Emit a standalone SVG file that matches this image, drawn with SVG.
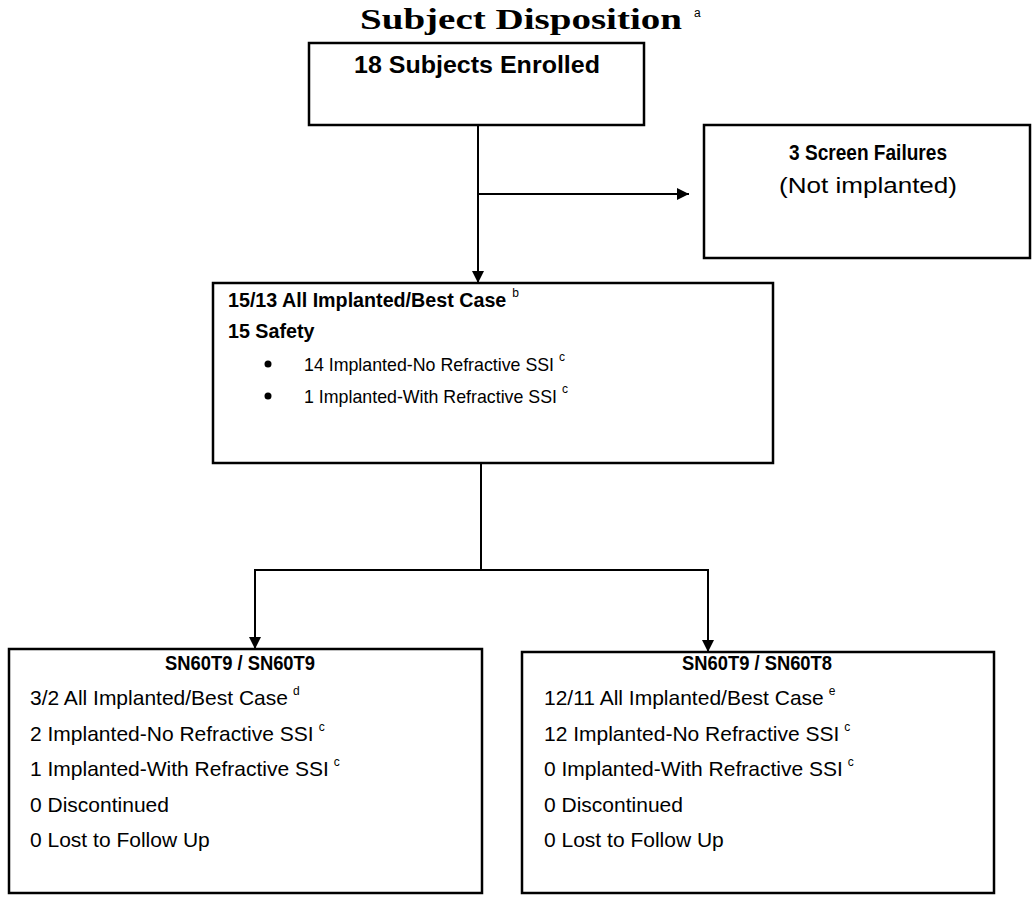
<svg xmlns="http://www.w3.org/2000/svg" width="1034" height="901" viewBox="0 0 1034 901">
<defs>
<style>
.box{fill:#fff;stroke:#000;stroke-width:2.5}
.ln{fill:none;stroke:#000;stroke-width:2}
.t{font-family:"Liberation Sans",Arial,sans-serif;fill:#000}
.b{font-weight:bold}
.s18{font-size:17.8px}
.s20{font-size:19.7px}
.s21{font-size:21px}
.s22{font-size:22px}
.s23{font-size:23px}
.sup{font-size:12px;font-weight:normal}
.title{font-family:"Liberation Serif","Times New Roman",serif;font-weight:bold;font-size:30px;fill:#000}
</style>
<marker id="ah" viewBox="0 0 10 10" refX="10" refY="5" markerWidth="12" markerHeight="12" markerUnits="userSpaceOnUse" orient="auto">
<path d="M0,0 L10,5 L0,10 Z" fill="#000"/>
</marker>
</defs>
<rect width="1034" height="901" fill="#fff"/>
<text class="title" x="360" y="29" textLength="322" lengthAdjust="spacingAndGlyphs">Subject Disposition</text>
<text class="t sup" x="694" y="17">a</text>

<g id="connectors">
<line class="ln" x1="478" y1="125" x2="478" y2="283" marker-end="url(#ah)"/>
<line class="ln" x1="478" y1="194" x2="689" y2="194" marker-end="url(#ah)"/>
<polyline class="ln" points="481,463 481,570"/>
<line class="ln" x1="255" y1="570" x2="708" y2="570"/>
<line class="ln" x1="255" y1="569" x2="255" y2="649" marker-end="url(#ah)"/>
<line class="ln" x1="708" y1="569" x2="708" y2="652" marker-end="url(#ah)"/>
</g>

<g id="enrolled">
<rect class="box" x="309" y="43" width="335" height="82"/>
<text class="t b s23" x="354" y="73" textLength="246" lengthAdjust="spacingAndGlyphs">18 Subjects Enrolled</text>
</g>

<g id="screen-failures">
<rect class="box" x="704" y="125" width="326" height="133"/>
<text class="t b s22" x="868" y="160" text-anchor="middle" textLength="158" lengthAdjust="spacingAndGlyphs">3 Screen Failures</text>
<text class="t s22" x="868" y="193" text-anchor="middle" textLength="178" lengthAdjust="spacingAndGlyphs">(Not implanted)</text>
</g>

<g id="implanted">
<rect class="box" x="213" y="283" width="560" height="180"/>
<text class="t b s20" x="228" y="307">15/13 All Implanted/Best Case<tspan class="sup" dx="6" dy="-10">b</tspan></text>
<text class="t b s20" x="228" y="338">15 Safety</text>
<circle cx="268" cy="364" r="3.5" fill="#000"/>
<text class="t s18" x="304" y="371">14 Implanted-No Refractive SSI<tspan class="sup" dx="5" dy="-10">c</tspan></text>
<circle cx="268" cy="396" r="3.5" fill="#000"/>
<text class="t s18" x="304" y="403">1 Implanted-With Refractive SSI<tspan class="sup" dx="5" dy="-10">c</tspan></text>
</g>

<g id="sn60t9-sn60t9">
<rect class="box" x="9" y="649" width="473" height="244"/>
<text class="t b s21" x="240" y="670" text-anchor="middle" textLength="150" lengthAdjust="spacingAndGlyphs">SN60T9 / SN60T9</text>
<text class="t s21" x="30" y="705">3/2 All Implanted/Best Case<tspan class="sup" dx="5" dy="-10">d</tspan></text>
<text class="t s21" x="30" y="741">2 Implanted-No Refractive SSI<tspan class="sup" dx="5" dy="-10">c</tspan></text>
<text class="t s21" x="30" y="776">1 Implanted-With Refractive SSI<tspan class="sup" dx="5" dy="-10">c</tspan></text>
<text class="t s21" x="30" y="812">0 Discontinued</text>
<text class="t s21" x="30" y="847">0 Lost to Follow Up</text>
</g>

<g id="sn60t9-sn60t8">
<rect class="box" x="522" y="652" width="472" height="241"/>
<text class="t b s21" x="757" y="670" text-anchor="middle" textLength="150" lengthAdjust="spacingAndGlyphs">SN60T9 / SN60T8</text>
<text class="t s21" x="544" y="705">12/11 All Implanted/Best Case<tspan class="sup" dx="5" dy="-10">e</tspan></text>
<text class="t s21" x="544" y="741">12 Implanted-No Refractive SSI<tspan class="sup" dx="5" dy="-10">c</tspan></text>
<text class="t s21" x="544" y="776">0 Implanted-With Refractive SSI<tspan class="sup" dx="5" dy="-10">c</tspan></text>
<text class="t s21" x="544" y="812">0 Discontinued</text>
<text class="t s21" x="544" y="847">0 Lost to Follow Up</text>
</g>
</svg>
